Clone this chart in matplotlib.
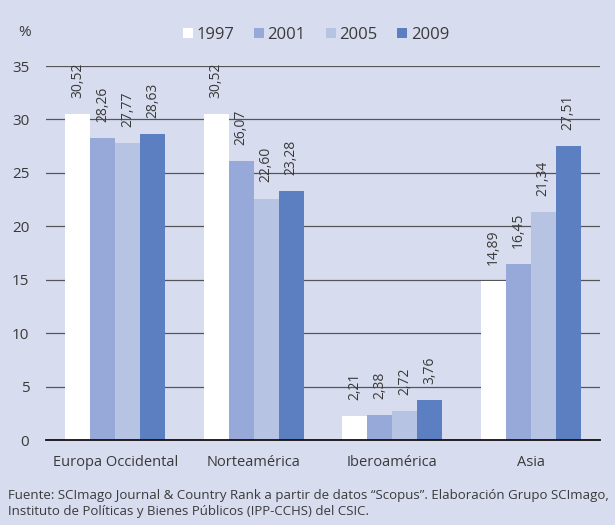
import matplotlib
matplotlib.use("Agg")
import matplotlib.pyplot as plt
import numpy as np

categories = ["Europa Occidental", "Norteamérica", "Iberoamérica", "Asia"]
years = ["1997", "2001", "2005", "2009"]
v1997 = [30.52, 30.52, 2.21, 14.89]
v2001 = [28.26, 26.07, 2.38, 16.45]
v2005 = [27.77, 22.60, 2.72, 21.34]
v2009 = [28.63, 23.28, 3.76, 27.51]
yticks = [0, 5, 10, 15, 20, 25, 30, 35]

series = [v1997, v2001, v2005, v2009]
colors = ["#ffffff", "#97a9d8", "#b6c3e3", "#5b7fc0"]
bg = "#d8dcef"
txt = "#3a3a3a"

plt.rcParams['font.family'] = ['Open Sans', 'DejaVu Sans']

fig = plt.figure(figsize=(6.15, 5.25), dpi=100, facecolor=bg)
ax = fig.add_axes([46/615, 1-440/525, (600-46)/615, (440-66)/525])
ax.set_facecolor(bg)

x = np.arange(len(categories))
w = 0.18
for i, (vals, c, yr) in enumerate(zip(series, colors, years)):
    pos = x + (i - 1.5) * w
    ax.bar(pos, vals, width=w, color=c, label=yr, zorder=3, linewidth=0)
    for p, v in zip(pos, vals):
        ax.text(p, v + 1.5, f"{v:.2f}".replace(".", ","), rotation=90,
                ha="center", va="bottom", fontsize=10, color=txt, zorder=4)

ax.set_ylim(0, 35)
ax.set_xlim(-0.5, 3.5)
ax.set_yticks(yticks)
ax.set_yticklabels([str(t) for t in yticks], fontsize=11, color=txt)
ax.yaxis.grid(True, color="#555555", linewidth=0.9, zorder=0)
ax.set_axisbelow(True)
ax.tick_params(axis="y", length=0, pad=12)
ax.tick_params(axis="x", length=0, pad=11)
ax.set_xticks(x)
ax.set_xticklabels(categories, fontsize=10.5, color=txt)
for s in ["top", "right", "left"]:
    ax.spines[s].set_visible(False)
ax.spines["bottom"].set_color("#111111")
ax.spines["bottom"].set_linewidth(1.3)
ax.spines["bottom"].set_zorder(5)

fig.text(18/615, 1-33/525, "%", fontsize=11, color=txt, va="center", ha="left")
leg = fig.legend(loc="center", bbox_to_anchor=(316/615, 1-35/525), ncol=4,
                 frameon=False, fontsize=12, handlelength=0.6, handleheight=0.6,
                 handletextpad=0.2, columnspacing=1.2, labelcolor=txt)

fig.text(8/615, 1-495/525, "Fuente: SCImago Journal & Country Rank a partir de datos \u201cScopus\u201d. Elaboración Grupo SCImago,",
         fontsize=9.5, color=txt, va="center", ha="left")
fig.text(8/615, 1-512/525, "Instituto de Políticas y Bienes Públicos (IPP-CCHS) del CSIC.",
         fontsize=9.5, color=txt, va="center", ha="left")

fig.savefig("out.png", dpi=100, facecolor=bg)
